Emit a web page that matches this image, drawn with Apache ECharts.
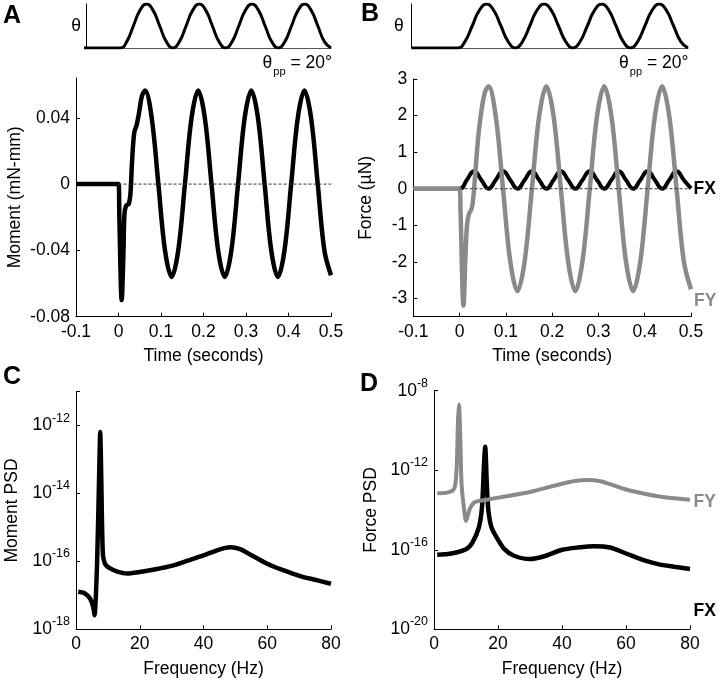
<!DOCTYPE html>
<html><head><meta charset="utf-8">
<script src="https://cdn.jsdelivr.net/npm/echarts@6/dist/echarts.min.js"></script>
<style>html,body{margin:0;padding:0;background:#fff}#c{width:720px;height:681px}</style>
</head><body><div id="c"></div>
<script>
// ---------- data ----------
// stimulus angle theta (deg), [time s, deg]
const thetaDeg = [[-0.1,0],[0,0],[0.0156,2.9],[0.0313,10],[0.0469,17.1],[0.0625,20],[0.0781,17.1],[0.0938,10],[0.1094,2.9],[0.125,0],
[0.1406,2.9],[0.1563,10],[0.1719,17.1],[0.1875,20],[0.2031,17.1],[0.2188,10],[0.2344,2.9],[0.25,0],
[0.2656,2.9],[0.2813,10],[0.2969,17.1],[0.3125,20],[0.3281,17.1],[0.3438,10],[0.3594,2.9],[0.375,0],
[0.3906,2.9],[0.4063,10],[0.4219,17.1],[0.4375,20],[0.4531,17.1],[0.4688,10],[0.4844,2.9],[0.5,0]];

// panel A: moment (mN-mm)
const moment = [[-0.1,0],[0,0],[0.002,-0.02],[0.0075,-0.07],[0.0118,-0.04],[0.014,-0.018],[0.018,-0.013],[0.024,-0.012],[0.028,-0.006],[0.032,0.014],[0.037,0.031],[0.043,0.036],[0.049,0.044],[0.055,0.053],[0.0625,0.0565],
[0.0781,0.040],[0.0938,0],[0.1094,-0.040],[0.125,-0.056],[0.1406,-0.040],[0.1563,0],[0.1719,0.040],[0.1875,0.0565],
[0.2031,0.040],[0.2188,0],[0.2344,-0.040],[0.25,-0.056],[0.2656,-0.040],[0.2813,0],[0.2969,0.040],[0.3125,0.0565],
[0.3281,0.040],[0.3438,0],[0.3594,-0.040],[0.375,-0.056],[0.3906,-0.040],[0.4063,0],[0.4219,0.040],[0.4375,0.0565],
[0.4531,0.040],[0.4688,0],[0.4844,-0.040],[0.5,-0.055]];

// panel B: forces (uN)
const forceFY = [[-0.1,0],[0,0],[0.002,-0.6],[0.0085,-3.2],[0.0125,-1.9],[0.016,-1.0],[0.02,-0.7],[0.026,-0.55],[0.03,-0.2],[0.035,0.6],[0.041,1.5],[0.048,2.2],[0.055,2.65],[0.0625,2.8],
[0.0781,1.98],[0.0938,0],[0.1094,-1.98],[0.125,-2.8],[0.1406,-1.98],[0.1563,0],[0.1719,1.98],[0.1875,2.8],
[0.2031,1.98],[0.2188,0],[0.2344,-1.98],[0.25,-2.8],[0.2656,-1.98],[0.2813,0],[0.2969,1.98],[0.3125,2.8],
[0.3281,1.98],[0.3438,0],[0.3594,-1.98],[0.375,-2.8],[0.3906,-1.98],[0.4063,0],[0.4219,1.98],[0.4375,2.8],
[0.4531,1.98],[0.4688,0],[0.4844,-1.98],[0.5,-2.75]];
const forceFX = [[-0.1,0],[0,0],[0.0156,0.24],[0.0313,0.48],[0.0469,0.24],[0.0625,0],[0.0781,0.24],[0.0938,0.48],[0.1094,0.24],[0.125,0],
[0.1406,0.24],[0.1563,0.48],[0.1719,0.24],[0.1875,0],[0.2031,0.24],[0.2188,0.48],[0.2344,0.24],[0.25,0],
[0.2656,0.24],[0.2813,0.48],[0.2969,0.24],[0.3125,0],[0.3281,0.24],[0.3438,0.48],[0.3594,0.24],[0.375,0],
[0.3906,0.24],[0.4063,0.48],[0.4219,0.24],[0.4375,0],[0.4531,0.24],[0.4688,0.48],[0.4844,0.24],[0.5,0.01]];
const zeroLine = [[0,0],[0.5,0]];

// panel C: moment PSD, [Hz, PSD]
const momentPsd = [[0.7,1.27e-17],[2.8,1.14e-17],[4.4,8.1e-18],[5.4,4.6e-18],[5.8,2.6e-18],[6.6,8e-17],[7.3,5e-14],[7.6,6.5e-13],[7.9,4e-14],[8.4,1.9e-16],[9.1,8.5e-17],[10.7,6.2e-17],[13,5e-17],[15.9,4.4e-17],[20,4.9e-17],[25,5.9e-17],[30,7.4e-17],[35,1.05e-16],[40,1.5e-16],[44.7,2.2e-16],[48.4,2.6e-16],[51.5,2.3e-16],[54.6,1.6e-16],[59.8,8.7e-17],[65,5.5e-17],[70.3,3.7e-17],[75.5,2.8e-17],[80,2.2e-17]];

// panel D: force PSD
const fyPsd = [[1,7e-14],[4,7.5e-14],[6,1e-13],[6.6,1.7e-13],[7.1,1.5e-12],[7.5,3e-10],[7.8,2e-9],[8.2,5e-11],[8.6,2.2e-13],[9.3,1.5e-14],[10,2.8e-15],[11.25,1.2e-14],[12.8,2.5e-14],[16.5,3.3e-14],[20,4.2e-14],[30,8e-14],[40,2.1e-13],[44,2.9e-13],[48,3.2e-13],[52,2.8e-13],[55,2e-13],[60,1.07e-13],[65,7e-14],[70,4.9e-14],[75,3.9e-14],[80,3.3e-14]];
const fxPsd = [[1,5.6e-17],[5,6.3e-17],[10,1.07e-16],[12,2.3e-16],[14,1.3e-15],[15,1.4e-14],[15.6,1.5e-12],[16,1.5e-11],[16.5,2.1e-13],[17,9.5e-15],[18,1.3e-15],[20,3.2e-16],[22,1.07e-16],[25,5e-17],[30,3.4e-17],[35,5e-17],[40,1e-16],[45,1.3e-16],[50,1.5e-16],[55,1.3e-16],[60,6.5e-17],[65,3.2e-17],[70,1.9e-17],[75,1.4e-17],[80,1.07e-17]];

// tick labels
const timeTicks = [-0.1, 0, 0.1, 0.2, 0.3, 0.4, 0.5];
const momentTicks = [-0.08, -0.04, 0, 0.04];
const forceTicks = [-3, -2, -1, 0, 1, 2, 3];
const freqTicks = [0, 20, 40, 60, 80];

// ---------- styling ----------
const FONT = '"Liberation Sans", Arial, Helvetica, sans-serif';
const FS = 17.5;
const GRAY = '#8a8a8a';
// log axes are drawn in shifted units (PSD x 10^k) so tick values stay >= 1
const C_SHIFT = 18, D_SHIFT = 20;

const txt = { color: '#000', fontSize: FS, fontFamily: FONT };
const nameStyle = { color: '#000', fontSize: FS, fontFamily: FONT };
function baseAxis(extra) {
  return Object.assign({
    type: 'value',
    axisLine: { show: true, onZero: false, lineStyle: { color: '#000', width: 1 } },
    axisTick: { show: true, inside: true, length: 4, lineStyle: { color: '#000', width: 1 } },
    axisLabel: Object.assign({ margin: 6 }, txt),
    splitLine: { show: false },
    nameTextStyle: nameStyle
  }, extra);
}
function thetaAxes(g, xmin, gap) {
  return {
    x: { gridIndex: g, type: 'value', min: xmin, max: 0.5,
      axisLine: { show: true, onZero: false, lineStyle: { color: '#555', width: 1 } },
      axisTick: { show: false }, axisLabel: { show: false }, splitLine: { show: false } },
    y: { gridIndex: g, type: 'value', min: 0, max: 20,
      axisLine: { show: true, onZero: false, lineStyle: { color: '#000', width: 1 } },
      axisTick: { show: false }, axisLabel: { show: false }, splitLine: { show: false },
      name: 'θ', nameLocation: 'middle', nameRotate: 0, nameGap: gap, nameTextStyle: nameStyle }
  };
}
const tA = thetaAxes(0, -0.081, 5), tB = thetaAxes(2, -0.1, 8);

function logFmt(shift, step) {
  return function (v) {
    const e = Math.round(Math.log10(v)) - shift;
    return (e % step === 0) ? '{b|10}{s|' + e + '}' : '';
  };
}
const logRich = {
  b: { fontSize: FS, fontFamily: FONT, color: '#000' },
  s: { fontSize: 12.5, fontFamily: FONT, color: '#000', padding: [0, 0, 15, 0] }
};

const timeX = (g) => baseAxis({ gridIndex: g, min: -0.1, max: 0.5, interval: 0.1,
  name: 'Time (seconds)', nameLocation: 'middle', nameGap: 30 });
const freqX = (g) => baseAxis({ gridIndex: g, min: 0, max: 80, interval: 20,
  name: 'Frequency (Hz)', nameLocation: 'middle', nameGap: 31 });

const lineS = (xi, data, color, width, smooth, z) => ({
  type: 'line', xAxisIndex: xi, yAxisIndex: xi, data: data, showSymbol: false, symbol: 'none',
  smooth: smooth, lineStyle: { color: color, width: width }, itemStyle: { color: color },
  z: z || 2, animation: false, silent: true
});
const shift = (arr, k) => arr.map(p => [p[0], p[1] * Math.pow(10, k)]);

const option = {
  animation: false,
  backgroundColor: '#fff',
  grid: [
    { left: 86, top: 4, width: 245, height: 44 },
    { left: 76, top: 78, width: 255, height: 238.7 },
    { left: 411.7, top: 4, width: 276.3, height: 44 },
    { left: 413.3, top: 79, width: 277.7, height: 237.7 },
    { left: 76, top: 391.7, width: 255, height: 237.6 },
    { left: 434, top: 390.7, width: 256, height: 238.6 }
  ],
  xAxis: [
    tA.x,
    timeX(1),
    tB.x,
    timeX(3),
    freqX(4),
    freqX(5)
  ],
  yAxis: [
    tA.y,
    baseAxis({ gridIndex: 1, min: -0.08, max: 0.064, interval: 0.04,
      axisTick: { show: true, inside: true, length: 4, lineStyle: { color: '#000' }, customValues: momentTicks },
      axisLabel: Object.assign({ margin: 6, customValues: momentTicks,
        formatter: v => String(Math.round(v * 100) / 100) }, txt),
      name: 'Moment (mN-mm)', nameLocation: 'middle', nameGap: 52 }),
    tB.y,
    baseAxis({ gridIndex: 3, min: -3.5, max: 3,
      axisTick: { show: true, inside: true, length: 4, lineStyle: { color: '#000' }, customValues: forceTicks },
      axisLabel: Object.assign({ margin: 6, customValues: forceTicks }, txt),
      name: 'Force (\u00B5N)', nameLocation: 'middle', nameGap: 38 }),
    baseAxis({ gridIndex: 4, type: 'log', logBase: 100, min: 1, max: 1e7,
      axisLabel: { margin: 6, formatter: logFmt(C_SHIFT, 2), rich: logRich },
      name: 'Moment PSD', nameLocation: 'middle', nameGap: 55 }),
    baseAxis({ gridIndex: 5, type: 'log', logBase: 10000, min: 1, max: 1e12,
      axisLabel: { margin: 6, formatter: logFmt(D_SHIFT, 4), rich: logRich },
      name: 'Force PSD', nameLocation: 'middle', nameGap: 54 })
  ],
  series: [
    lineS(0, thetaDeg, '#000', 3, 0.5),
    lineS(1, moment, '#000', 4.5, 0.35),
    Object.assign(lineS(1, zeroLine, '#333', 1, false, 3), { lineStyle: { color: '#333', width: 1, type: [3, 2] } }),
    lineS(2, thetaDeg, '#000', 3, 0.5),
    lineS(3, forceFX, '#000', 4, 0.5),
    lineS(3, forceFY, GRAY, 4.5, 0.35),
    Object.assign(lineS(3, zeroLine, '#333', 1, false, 3), { lineStyle: { color: '#333', width: 1, type: [3, 2] } }),
    lineS(4, shift(momentPsd, C_SHIFT), '#000', 4.5, 0.25),
    lineS(5, shift(fxPsd, D_SHIFT), '#000', 4.5, 0.25),
    lineS(5, shift(fyPsd, D_SHIFT), GRAY, 4, 0.25)
  ],
  graphic: [
    { type: 'text', x: 3, y: 16, style: { text: 'A', font: 'bold 25px ' + FONT, fill: '#000', align: 'left', verticalAlign: 'middle', textAlign: 'left', textVerticalAlign: 'middle' } },
    { type: 'text', x: 361, y: 14, style: { text: 'B', font: 'bold 25px ' + FONT, fill: '#000', align: 'left', verticalAlign: 'middle', textAlign: 'left', textVerticalAlign: 'middle' } },
    { type: 'text', x: 3, y: 377, style: { text: 'C', font: 'bold 25px ' + FONT, fill: '#000', align: 'left', verticalAlign: 'middle', textAlign: 'left', textVerticalAlign: 'middle' } },
    { type: 'text', x: 360, y: 384, style: { text: 'D', font: 'bold 25px ' + FONT, fill: '#000', align: 'left', verticalAlign: 'middle', textAlign: 'left', textVerticalAlign: 'middle' } },
    { type: 'text', x: 332, y: 63.5, style: { text: '{a|θ}{b|pp}{a| = 20°}', align: 'right', verticalAlign: 'middle', textAlign: 'right', textVerticalAlign: 'middle',
        rich: { a: { fontSize: FS, fontFamily: FONT, color: '#000' }, b: { fontSize: 11, fontFamily: FONT, color: '#000', padding: [16, 0, 0, 1] } } } },
    { type: 'text', x: 688.5, y: 63.5, style: { text: '{a|θ}{b|pp}{a| = 20°}', align: 'right', verticalAlign: 'middle', textAlign: 'right', textVerticalAlign: 'middle',
        rich: { a: { fontSize: FS, fontFamily: FONT, color: '#000' }, b: { fontSize: 11, fontFamily: FONT, color: '#000', padding: [16, 0, 0, 1] } } } },
    { type: 'text', x: 693.5, y: 189, style: { text: 'FX', font: 'bold ' + FS + 'px ' + FONT, fill: '#000', align: 'left', verticalAlign: 'middle', textAlign: 'left', textVerticalAlign: 'middle' } },
    { type: 'text', x: 694, y: 301, style: { text: 'FY', font: 'bold ' + FS + 'px ' + FONT, fill: GRAY, align: 'left', verticalAlign: 'middle', textAlign: 'left', textVerticalAlign: 'middle' } },
    { type: 'text', x: 693.5, y: 502.5, style: { text: 'FY', font: 'bold ' + FS + 'px ' + FONT, fill: GRAY, align: 'left', verticalAlign: 'middle', textAlign: 'left', textVerticalAlign: 'middle' } },
    { type: 'text', x: 693.5, y: 611, style: { text: 'FX', font: 'bold ' + FS + 'px ' + FONT, fill: '#000', align: 'left', verticalAlign: 'middle', textAlign: 'left', textVerticalAlign: 'middle' } }
  ]
};
const chart = echarts.init(document.getElementById('c'), null, { renderer: 'canvas' });
chart.setOption(option);
</script></body></html>
